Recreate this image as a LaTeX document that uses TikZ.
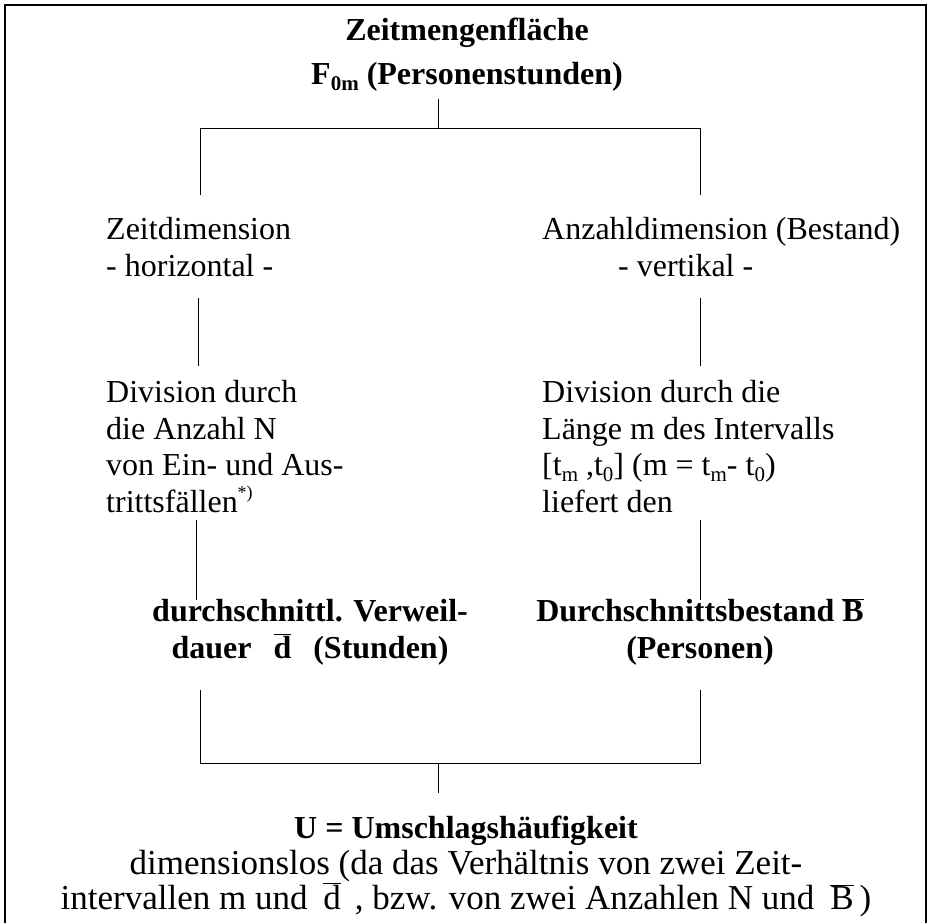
\documentclass[tikz,border=0pt]{standalone}
\usepackage{fontspec}
\setmainfont{Liberation Serif}
\newcommand{\tief}[1]{\raisebox{-0.2em}{\fontsize{21}{21}\selectfont #1}}
\newcommand{\hoch}[1]{\raisebox{0.42em}{\fontsize{18}{18}\selectfont #1}}
\newcommand{\quer}[1]{\ensuremath{\overline{\mbox{#1}}}}
\begin{document}
\begin{tikzpicture}[x=1pt,y=-1pt,
  txt/.style={inner sep=0pt, align=left, font=\fontsize{32}{36.5}\selectfont},
  fett/.style={inner sep=0pt, align=center, font=\fontsize{32}{36.5}\selectfont\bfseries},
  linie/.style={line width=0.9pt}]
  \useasboundingbox (0,0) rectangle (928,922);
  \draw[line width=2.2pt] (5,940) -- (5,5) -- (926,5) -- (926,940);

  % anchor base = baseline of the last line
  \node[fett, anchor=base] (zmf) at (467,84) {Zeitmengenfläche\\[7pt]F\tief{0m} (Personenstunden)};
  \node[txt, anchor=base west] (zeit) at (106,276) {Zeitdimension\\- horizontal -};
  \node[txt, anchor=base west] (anz) at (542,276) {Anzahldimension (Bestand)\\\hspace*{76pt}- vertikal -};
  \node[txt, anchor=base west] (divl) at (106,512) {Division durch\\die Anzahl N\\von Ein- und Aus-\\trittsfällen\hoch{*)}};
  \node[txt, anchor=base west] (divr) at (542,512) {Division durch die\\Länge m des Intervalls\\{}[t\tief{m} ,t\tief{0}] (m = t\tief{m}- t\tief{0})\\liefert den};
  \node[fett, anchor=base] (dauer) at (310,658) {durchschnittl. Verweil-\\dauer\hspace{22pt}\quer{d}\hspace{22pt}(Stunden)};
  \node[fett, anchor=base] (bestand) at (700,658) {Durchschnittsbestand \quer{B}\\(Personen)};
  \node[fett, anchor=base] (u) at (466,838) {U = Umschlagshäufigkeit};
  \node[txt, align=center, anchor=base, font=\fontsize{35}{35}\selectfont] (dimlos) at (466,909)
    {dimensionslos (da das Verhältnis von zwei Zeit-\\intervallen m und\hspace{16pt}\quer{d}\hspace{14pt}, bzw. von zwei Anzahlen N und\hspace{16pt}\quer{B}\hspace{6pt})};

  \coordinate (o1) at (438,99);
  \coordinate (o2) at (438,128);
  \coordinate (ol1) at (200,128);
  \coordinate (ol2) at (200,195);
  \coordinate (or1) at (700,128);
  \coordinate (or2) at (700,195);
  \coordinate (ml1) at (198,298);
  \coordinate (ml2) at (198,366);
  \coordinate (mr1) at (700,298);
  \coordinate (mr2) at (700,366);
  \coordinate (ul1) at (196,520);
  \coordinate (ul2) at (196,600);
  \coordinate (ur1) at (700,520);
  \coordinate (ur2) at (700,600);
  \coordinate (bl1) at (200,690);
  \coordinate (bl2) at (200,763);
  \coordinate (br1) at (700,690);
  \coordinate (br2) at (700,763);
  \coordinate (b1) at (438,763);
  \coordinate (b2) at (438,793);

  \draw[linie] (o1) -- (o2);
  \draw[linie] (ol2) -- (ol1) -- (or1) -- (or2);
  \draw[linie] (ml1) -- (ml2);
  \draw[linie] (mr1) -- (mr2);
  \draw[linie] (ul1) -- (ul2);
  \draw[linie] (ur1) -- (ur2);
  \draw[linie] (bl1) -- (bl2) -- (br2) -- (br1);
  \draw[linie] (b1) -- (b2);
\end{tikzpicture}
\end{document}
